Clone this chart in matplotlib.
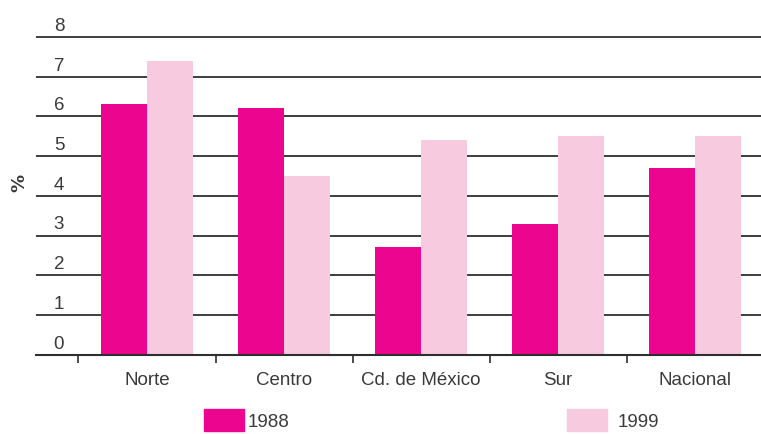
import matplotlib.pyplot as plt
import matplotlib.transforms as mtransforms
from matplotlib.patches import Patch
import numpy as np

plt.rcParams['font.family'] = ['Liberation Sans', 'DejaVu Sans']

# data
regiones = ["Norte", "Centro", "Cd. de México", "Sur", "Nacional"]
v1988 = [6.3, 6.2, 2.7, 3.3, 4.7]
v1999 = [7.4, 4.5, 5.4, 5.5, 5.5]
y_ticks = [0, 1, 2, 3, 4, 5, 6, 7, 8]

COL_88 = "#EC058E"
COL_99 = "#F7CADF"
TXT = "#3a3a3a"
W, H = 761, 435
FS = 13.5

fig = plt.figure(figsize=(W / 100, H / 100), dpi=100)
y0px, y8px = 355.6, 38
unit = (y0px - y8px) / 8
top_px = y8px - 0.1 * unit
ax = fig.add_axes([36 / W, 1 - y0px / H, (W - 36) / W, (y0px - top_px) / H])

x = np.arange(len(regiones))
bw = 0.336
ax.bar(x - bw / 2, v1988, bw, color=COL_88, zorder=2)
ax.bar(x + bw / 2, v1999, bw, color=COL_99, zorder=2)

ax.set_xlim(-0.81, 4.48)
ax.set_ylim(0, 8.1)

# horizontal grid lines
for t in y_ticks[1:]:
    ax.axhline(t, color="#2e2e2e", lw=1.3, zorder=1)

# y labels above each line
off = mtransforms.offset_copy(ax.transData, fig=fig, x=0, y=7, units="dots")
tr = mtransforms.blended_transform_factory(ax.transAxes, off)
for t in y_ticks:
    ax.text(23 / (W - 36), t, str(t), transform=tr, ha="center", va="baseline",
            fontsize=FS, color=TXT)
ax.set_yticks([])

for s in ["top", "right", "left"]:
    ax.spines[s].set_visible(False)
ax.spines["bottom"].set_color("#2e2e2e")
ax.spines["bottom"].set_linewidth(1.5)

ax.set_xticks(x)
ax.set_xticklabels(regiones, fontsize=FS, color=TXT)
ax.tick_params(axis="x", which="major", length=0, pad=12)
ax.set_xticks(x - 0.5, minor=True)
ax.tick_params(axis="x", which="minor", length=5.5, width=1.2, color="#2e2e2e")

fig.text(19 / W, 1 - 183 / H, "%", rotation=90, ha="center", va="center",
         fontsize=13, fontweight="bold", color=TXT, family="DejaVu Sans")

fig.legend(handles=[Patch(color=COL_88, label="1988")], loc="center left",
           bbox_to_anchor=(204 / W, 1 - 421 / H), frameon=False, fontsize=FS,
           handlelength=40 / 18.75, handleheight=27 / 18.75, handletextpad=0.2,
           borderpad=0, borderaxespad=0, labelcolor=TXT)
fig.legend(handles=[Patch(color=COL_99, label="1999")], loc="center left",
           bbox_to_anchor=(567 / W, 1 - 421 / H), frameon=False, fontsize=FS,
           handlelength=40 / 18.75, handleheight=27 / 18.75, handletextpad=0.55,
           borderpad=0, borderaxespad=0, labelcolor=TXT)

fig.savefig("out.png", dpi=100)
